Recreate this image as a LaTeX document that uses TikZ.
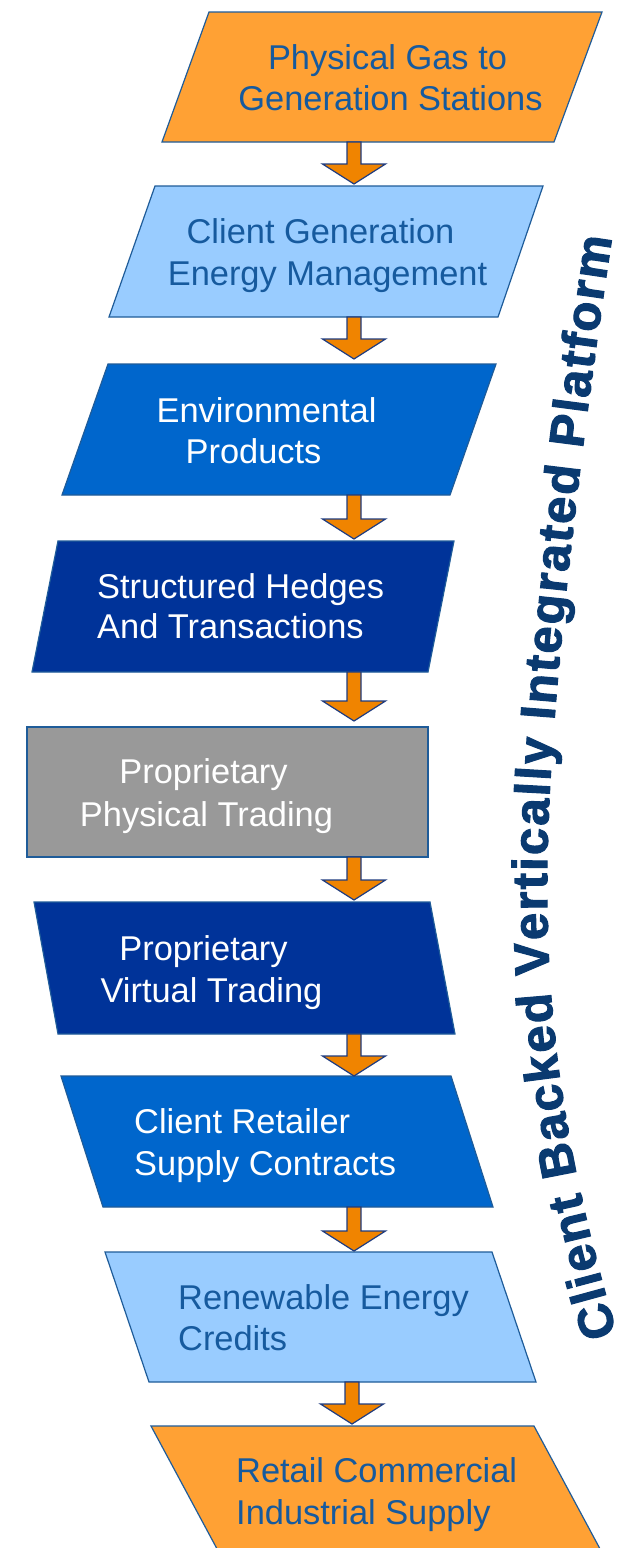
\documentclass[tikz,border=0pt]{standalone}
\usepackage{fontspec}
\setmainfont{Liberation Sans}
\newfontfamily\heavyfont{Liberation Sans Bold}[FakeBold=2.2]
\usetikzlibrary{calc,decorations.text}
\definecolor{orangebox}{HTML}{FFA134}
\definecolor{arroworange}{HTML}{F08400}
\definecolor{lightblue}{HTML}{99CCFF}
\definecolor{midblue}{HTML}{0066CC}
\definecolor{darkblue}{HTML}{003399}
\definecolor{greybox}{HTML}{999999}
\definecolor{edgeblue}{HTML}{1F5C99}
\definecolor{arrowedge}{HTML}{1F3C80}
\definecolor{textblue}{HTML}{165A9E}
\definecolor{titleblue}{HTML}{0A3A70}
\newcommand{\titlefmt}{\heavyfont\fontsize{49}{55}\selectfont\color{titleblue}}
\begin{document}
\begin{tikzpicture}[x=1pt,y=-1pt,
  box/.style={draw=edgeblue,line width=1.2pt,line join=miter},
  lbl/.style={font=\fontsize{34.4}{40}\selectfont,inner sep=0pt},
  bluetxt/.style={lbl,text=textblue},
  whitetxt/.style={lbl,text=white},
  blockarrow/.style={fill=arroworange,draw=arrowedge,line width=1.2pt,line join=miter,
    to path={let \p1=(\tikztostart), \p2=(\tikztotarget) in
      (\x1-7pt,\y1) -- (\x1+7pt,\y1) -- (\x1+7pt,\y2+20pt) -- (\x1+31.5pt,\y2+20pt)
      -- (\x1,\y2) -- (\x1-31.5pt,\y2+20pt) -- (\x1-7pt,\y2+20pt) -- cycle}}]
\useasboundingbox (0,0) rectangle (626,1548);
\fill[white] (0,0) rectangle (626,1548);

% boxes
\draw[box,fill=orangebox] (209,12) -- (602,12) -- (554,142) -- (162,142) -- cycle;
\draw[box,fill=lightblue] (155,186) -- (543,186) -- (498,317) -- (109,317) -- cycle;
\draw[box,fill=midblue] (108,364) -- (496,364) -- (450,495) -- (62,495) -- cycle;
\draw[box,fill=darkblue] (58,541) -- (454,541) -- (428,672) -- (32,672) -- cycle;
\draw[box,fill=greybox] (27,727) -- (428,727) -- (428,857) -- (27,857) -- cycle;
\draw[box,fill=darkblue] (34,902) -- (430,902) -- (455,1034) -- (58,1034) -- cycle;
\draw[box,fill=midblue] (61,1076) -- (451,1076) -- (493,1207) -- (103,1207) -- cycle;
\draw[box,fill=lightblue] (105,1252) -- (492,1252) -- (536,1382) -- (149,1382) -- cycle;
\draw[box,fill=orangebox] (151,1426) -- (534,1426) -- (606,1560) -- (223,1560) -- cycle;

% connector end points
\coordinate (b1out) at (354,142);  \coordinate (b2in) at (354,184);
\coordinate (b2out) at (354,317);  \coordinate (b3in) at (354,359);
\coordinate (b3out) at (354,495);  \coordinate (b4in) at (354,539);
\coordinate (b4out) at (354,672);  \coordinate (b5in) at (354,721);
\coordinate (b5out) at (354,857);  \coordinate (b6in) at (354,900);
\coordinate (b6out) at (354,1034); \coordinate (b7in) at (354,1076);
\coordinate (b7out) at (354,1207); \coordinate (b8in) at (354,1251);
\coordinate (b8out) at (352,1382); \coordinate (b9in) at (352,1424);

\draw[blockarrow] (b1out) to (b2in);
\draw[blockarrow] (b2out) to (b3in);
\draw[blockarrow] (b3out) to (b4in);
\draw[blockarrow] (b4out) to (b5in);
\draw[blockarrow] (b5out) to (b6in);
\draw[blockarrow] (b6out) to (b7in);
\draw[blockarrow] (b7out) to (b8in);
\draw[blockarrow] (b8out) to (b9in);

% labels
\node[bluetxt,anchor=base] (t1a) at (387.5,69) {Physical Gas to};
\node[bluetxt,anchor=base] (t1b) at (390.5,110) {Generation Stations};
\node[bluetxt,anchor=base] (t2a) at (320.5,243) {Client Generation};
\node[bluetxt,anchor=base] (t2b) at (327.5,285) {Energy Management};
\node[whitetxt,anchor=base] (t3a) at (266.5,422) {Environmental};
\node[whitetxt,anchor=base] (t3b) at (253.5,463) {Products};
\node[whitetxt,anchor=base west] (t4a) at (97,598) {Structured Hedges};
\node[whitetxt,anchor=base west] (t4b) at (97,638) {And Transactions};
\node[whitetxt,anchor=base] (t5a) at (203.5,783) {Proprietary};
\node[whitetxt,anchor=base] (t5b) at (206.5,826) {Physical Trading};
\node[whitetxt,anchor=base] (t6a) at (203.5,960) {Proprietary};
\node[whitetxt,anchor=base] (t6b) at (211.5,1002) {Virtual Trading};
\node[whitetxt,anchor=base west] (t7a) at (134,1133) {Client Retailer};
\node[whitetxt,anchor=base west] (t7b) at (134,1175) {Supply Contracts};
\node[bluetxt,anchor=base west] (t8a) at (178,1309) {Renewable Energy};
\node[bluetxt,anchor=base west] (t8b) at (178,1350) {Credits};
\node[bluetxt,anchor=base west] (t9a) at (236,1482) {Retail Commercial};
\node[bluetxt,anchor=base west] (t9b) at (236,1524) {Industrial Supply};

% curved title
\path[decorate,decoration={text along path,text align=fit to path,
  text={|\titlefmt|Client Backed Vertically Integrated Platform}}]
  (617,1334) .. controls (557,1130) and (547,1000) .. (547,880)
  .. controls (547,700) and (590,380) .. (612,238);
\end{tikzpicture}
\end{document}
